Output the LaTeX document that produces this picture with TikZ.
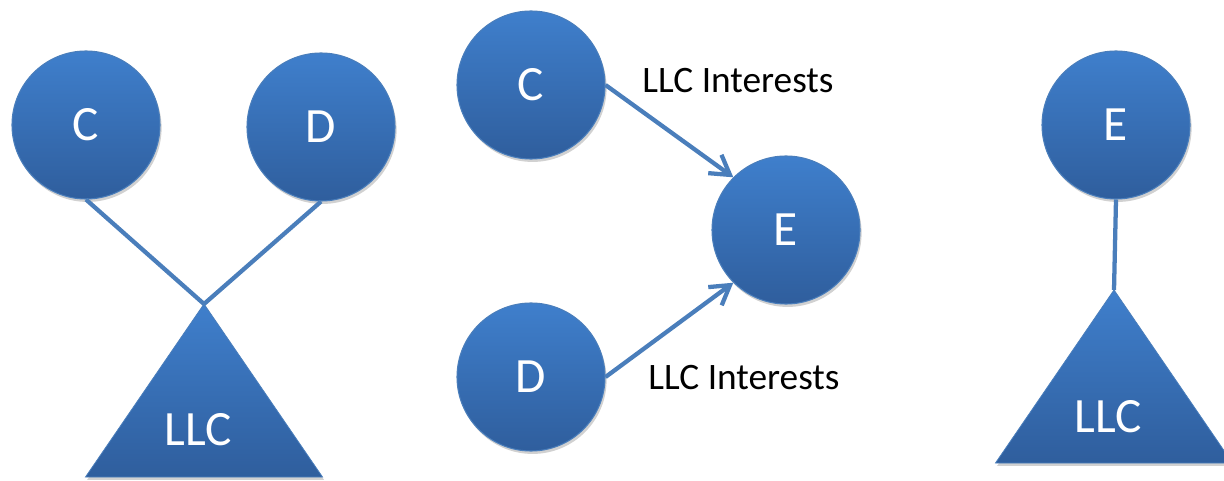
\documentclass[tikz,border=0pt]{standalone}
\usepackage{fontspec}
\setmainfont{Carlito}
\usetikzlibrary{arrows.meta,shadows}
\definecolor{NodoArriba}{HTML}{3F7FCC}
\definecolor{NodoAbajo}{HTML}{2F5E9D}
\definecolor{NodoBorde}{HTML}{4A7EBB}
\tikzset{
  sombra/.style  = {drop shadow={shadow xshift=1.2pt, shadow yshift=-2.2pt,
                     opacity=0.3, fill=black!60}},
  nodo/.style    = {circle, draw=NodoBorde, line width=0.8pt, top color=NodoArriba,
                     bottom color=NodoAbajo, minimum size=111pt, inner sep=0pt,
                     text=white, font=\fontsize{37}{37}\selectfont, sombra},
  tri/.style     = {draw=NodoBorde, line width=0.6pt, top color=NodoArriba,
                     bottom color=NodoAbajo, sombra},
  tritxt/.style  = {text=white, font=\fontsize{37}{37}\selectfont, inner sep=0pt},
  enlace/.style  = {draw=NodoBorde, line width=3.2pt},
  flecha/.style  = {enlace, -{Straight Barb[length=14pt,width=17pt]}},
  etiq/.style    = {font=\fontsize{28}{28}\selectfont, inner sep=0pt},
}
\begin{document}
\begin{tikzpicture}[x=0.75pt,y=-0.75pt]
  \useasboundingbox (0,0) rectangle (1224,481);
  % antes
  \coordinate (Ta) at (204,304);
  \draw[tri] (Ta) -- ++(-118.5,173) -- ++(237,0) -- cycle;
  \node[tritxt] (La) at (198,430) {LLC};
  \node[nodo] (Ca) at (86,125) {C};
  \node[nodo] (Da) at (321,127) {D};
  \draw[enlace] (Ca.south) -- (Ta);
  \draw[enlace] (Da.south) -- (Ta);
  % transferencia
  \node[nodo] (Cb) at (531,85) {C};
  \node[nodo] (Db) at (531,377) {D};
  \node[nodo] (Eb) at (786,230) {E};
  \draw[flecha] (Cb.east) -- (Eb.north west);
  \draw[flecha] (Db.east) -- (Eb.south west);
  \node[etiq] (Ia) at (738,81) {LLC Interests};
  \node[etiq] (Ib) at (744,378) {LLC Interests};
  % despues
  \coordinate (Tc) at (1114,290);
  \draw[tri] (Tc) -- ++(-118.5,173) -- ++(237,0) -- cycle;
  \node[tritxt] (Lc) at (1108,417) {LLC};
  \node[nodo] (Ec) at (1116,125) {E};
  \draw[enlace] (Ec.south) -- (Tc);
\end{tikzpicture}
\end{document}
